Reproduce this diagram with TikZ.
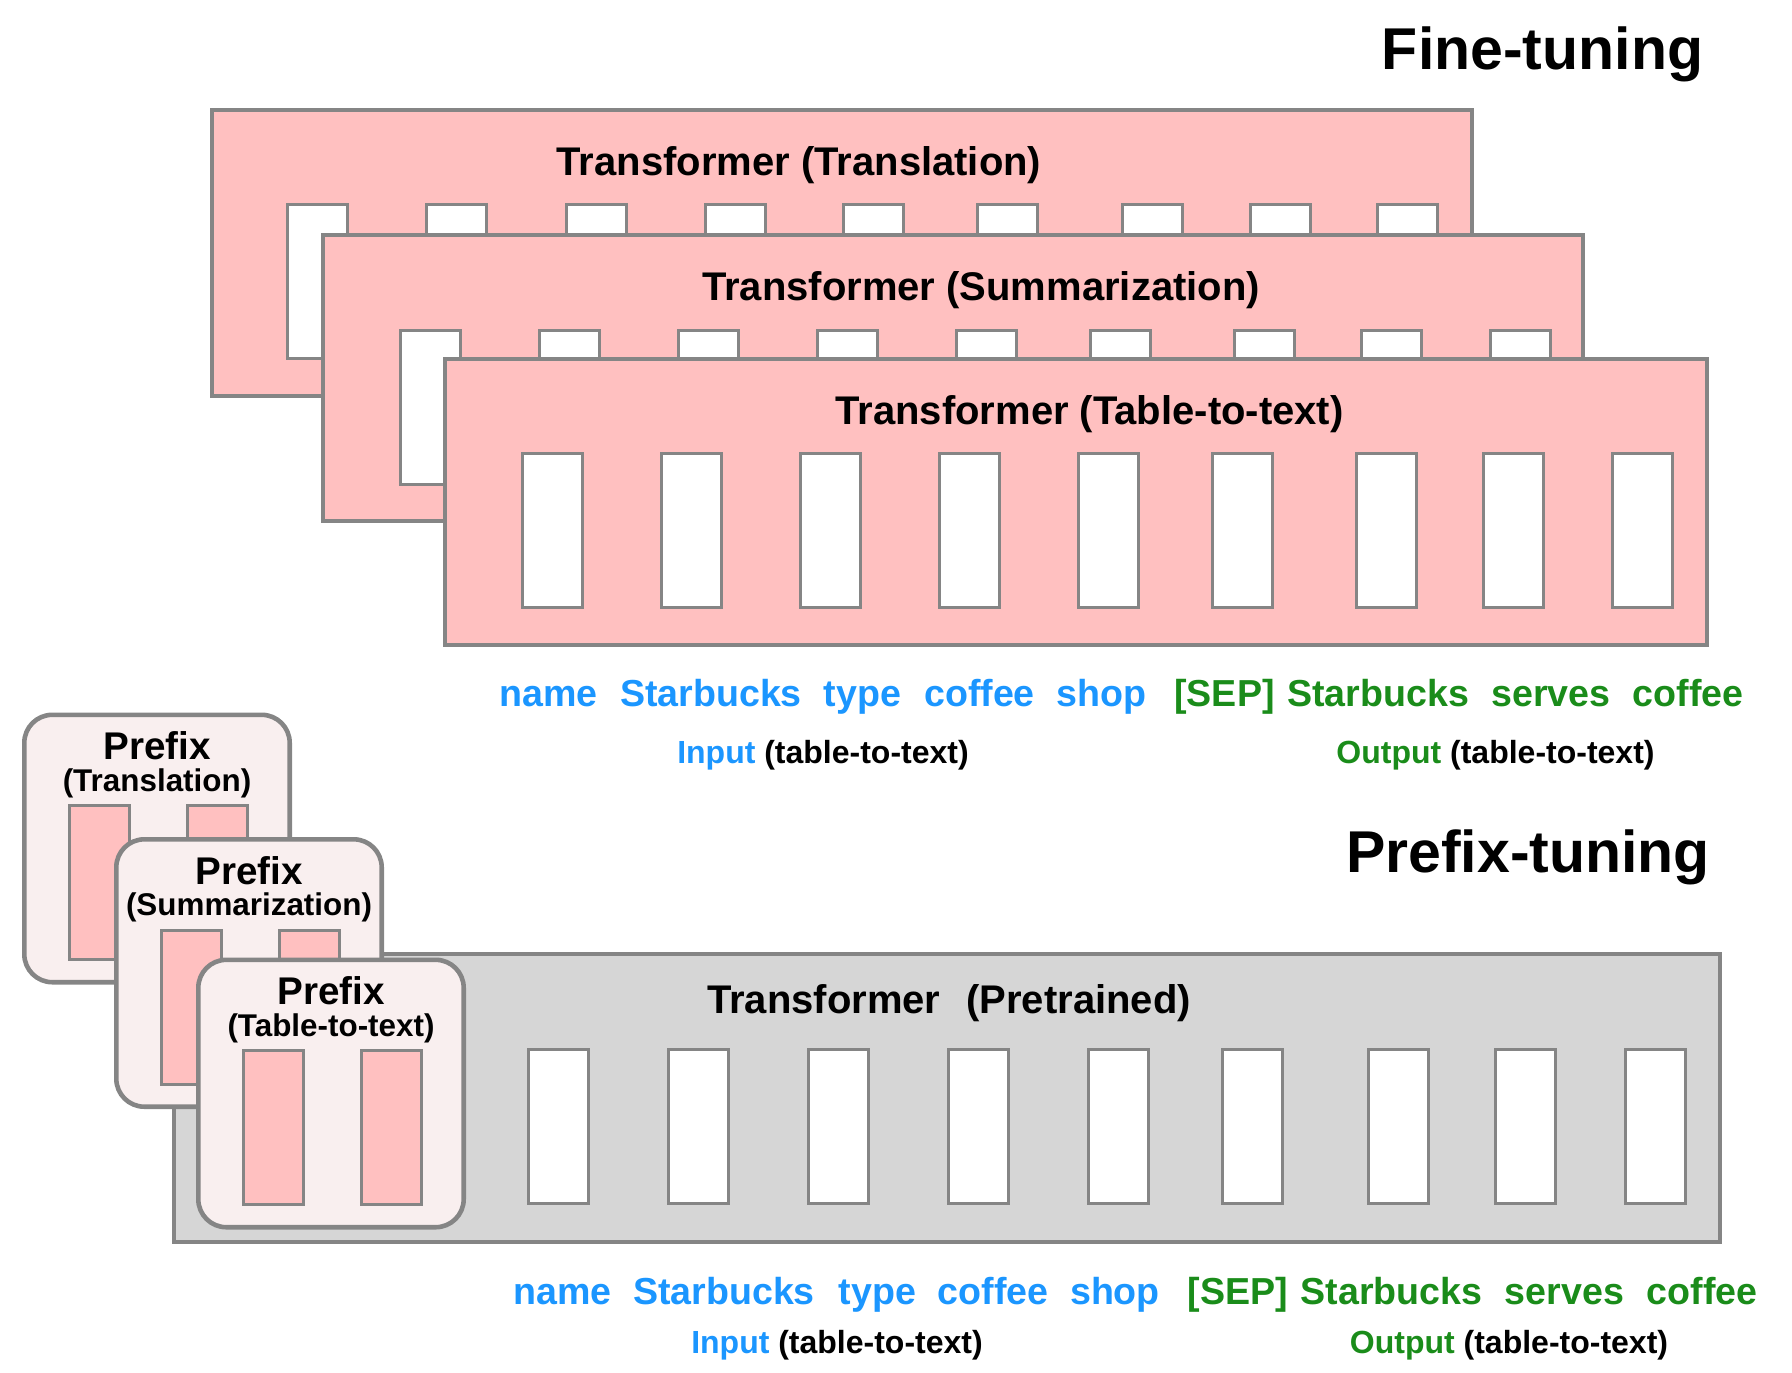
\documentclass[tikz,border=0pt]{standalone}
\usepackage{fontspec}
\setmainfont{Liberation Sans}
\definecolor{edgegray}{RGB}{133,133,133}
\definecolor{ftpink}{RGB}{255,192,192}
\definecolor{pfxbg}{RGB}{249,239,239}
\definecolor{ptgray}{RGB}{214,214,214}
\definecolor{inblue}{RGB}{27,150,255}
\definecolor{outgreen}{RGB}{26,140,26}

\begin{document}
\begin{tikzpicture}[x=0.5pt,y=-0.5pt,
    model/.style ={rectangle, draw=edgegray, line width=2.2pt, anchor=north west, inner sep=0pt},
    token/.style ={rectangle, draw=edgegray, fill=white, line width=1.4pt, anchor=north west, inner sep=0pt, minimum width=30pt, minimum height=77pt},
    ptoken/.style ={token, fill=ftpink, line width=1.7pt},
    prefixbox/.style ={rectangle, rounded corners=14pt, draw=edgegray, fill=pfxbg, line width=2.3pt, anchor=north west, inner sep=0pt, minimum width=132.7pt, minimum height=133.7pt},
    modeltitle/.style ={font=\bfseries\fontsize{20}{24}\selectfont, anchor=base, inner sep=0pt},
    heading/.style ={font=\bfseries\fontsize{29.5}{34}\selectfont, anchor=base, inner sep=0pt},
    word/.style ={font=\bfseries\fontsize{18.8}{22}\selectfont, anchor=base, inner sep=0pt},
    tasknote/.style ={font=\bfseries\fontsize{16}{19}\selectfont, anchor=base, inner sep=0pt}]
   \useasboundingbox (0,0) rectangle (1792,1372);
   % fine-tuning
   \node[heading] (ft) at (1542.5,69) {Fine-tuning};
   \node[model, fill=ftpink, minimum width=630pt, minimum height=143pt] (trans) at (210,108) {};
   \foreach \x [count=\i] in {286,425,565,704,842,976,1121,1249,1376}
     \node[token] (trans-\i) at (\x,203) {};
   \node[modeltitle] (trans-t) at (799,175) {Transformer (Translation)};
   \node[model, fill=ftpink, minimum width=630pt, minimum height=143pt] (summ) at (321,233) {};
   \foreach \x [count=\i] in {399,538,677,816,955,1089,1233,1360,1489}
     \node[token] (summ-\i) at (\x,329) {};
   \node[modeltitle] (summ-t) at (981,300) {Transformer (Summarization)};
   \node[model, fill=ftpink, minimum width=631pt, minimum height=143pt] (tab) at (443,357) {};
   \foreach \x [count=\i] in {521,660,799,938,1077,1211,1355,1482,1611}
     \node[token] (tab-\i) at (\x,452) {};
   \node[modeltitle] (tab-t) at (1089.5,424) {Transformer (Table-to-text)};
   \foreach \x/\w [count=\i] in {548.5/name,711/Starbucks,862.5/type,979.5/coffee,1101.5/shop}
     \node[word, text=inblue] (ftin-\i) at (\x,706) {\w};
   \foreach \x/\w [count=\i] in {1224.5/[SEP],1378/Starbucks,1551/serves,1688/coffee}
     \node[word, text=outgreen] (ftout-\i) at (\x,706) {\w};
   \node[tasknote] (ftin) at (823,763.5) {\textcolor{inblue}{Input} (table-to-text)};
   \node[tasknote] (ftout) at (1495.5,763.5) {\textcolor{outgreen}{Output} (table-to-text)};
   % prefix-tuning
   \node[heading] (pt) at (1528,872) {Prefix-tuning};
   \node[model, fill=ptgray, minimum width=773pt, minimum height=144pt] (pre) at (172,952) {};
   \foreach \x [count=\i] in {527,667,807,947,1087,1221,1367,1494,1624}
     \node[token] (pre-\i) at (\x,1048) {};
   \node[modeltitle] (pre-t) at (949,1013.5) {Transformer\hspace{0.65em}(Pretrained)};
   \foreach \px/\py/\task [count=\k] in {22/712.5/Translation,114/837/Summarization,196/957.5/Table-to-text}{
     \node[prefixbox] (pfx-\k) at (\px,\py) {};
     \node[ptoken] (pfx-\k-a) at (\px+46,\py+91.5) {};
     \node[ptoken] (pfx-\k-b) at (\px+164,\py+91.5) {};
     \node[word, font=\bfseries\fontsize{19.3}{22}\selectfont] (pfx-\k-t) at (\px+135,\py+47) {Prefix};
     \node[tasknote, font=\bfseries\fontsize{15.7}{18}\selectfont] (pfx-\k-s) at (\px+135,\py+78.5) {(\task)};
   }
   \foreach \x/\w [count=\i] in {562.5/name,724/Starbucks,877.5/type,993/coffee,1115/shop}
     \node[word, text=inblue] (ptin-\i) at (\x,1304) {\w};
   \foreach \x/\w [count=\i] in {1238/[SEP],1391.5/Starbucks,1564.5/serves,1702/coffee}
     \node[word, text=outgreen] (ptout-\i) at (\x,1304) {\w};
   \node[tasknote] (ptin) at (837,1353) {\textcolor{inblue}{Input} (table-to-text)};
   \node[tasknote] (ptout) at (1509,1353) {\textcolor{outgreen}{Output} (table-to-text)};
\end{tikzpicture}
\end{document}
